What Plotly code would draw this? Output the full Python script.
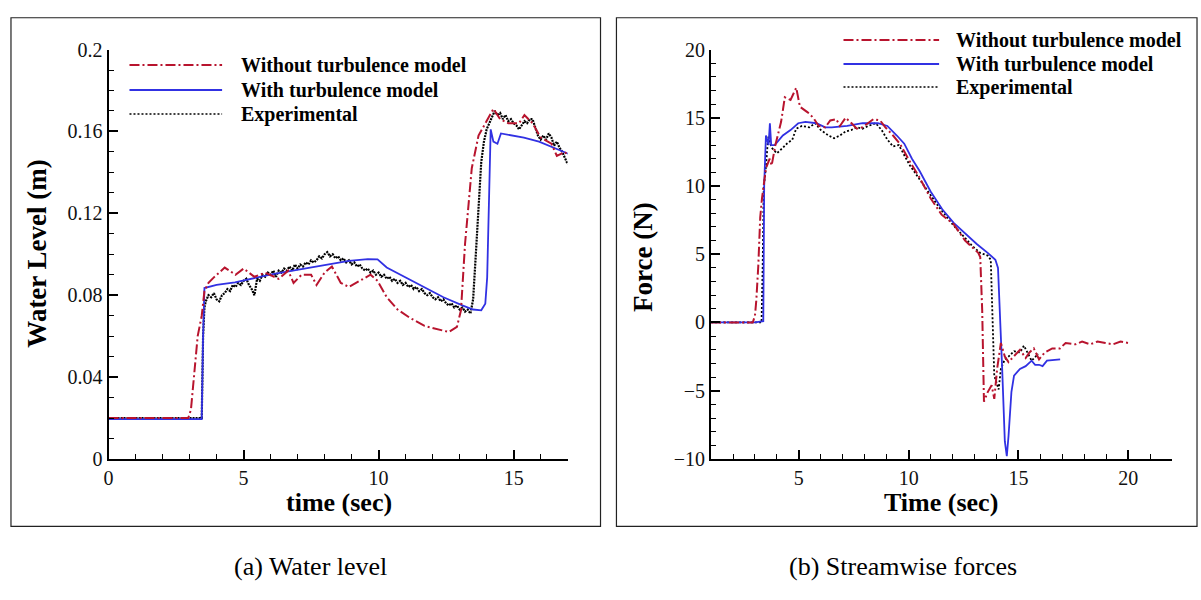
import plotly.graph_objects as go

# ---------------- (a) Water level ----------------
wl_t_without = [0.0, 1.0, 2.0, 2.95, 3.05, 3.15, 3.3, 3.45, 3.55, 3.7, 3.9, 4.3, 4.7, 5.0, 5.4, 5.8,
                6.3, 6.65, 6.85, 7.15, 7.5, 7.7, 8.0, 8.27, 8.6, 8.9, 9.25, 9.7, 9.96, 10.3, 10.7,
                11.15, 11.7, 12.3, 12.6, 12.9, 13.05, 13.2, 13.3, 13.45, 13.7, 14.0, 14.25, 14.5,
                14.8, 15.2, 15.4, 15.7, 16.0, 16.4, 16.6, 16.9, 17.0]
wl_without = [0.0200, 0.0200, 0.0200, 0.0200, 0.0240, 0.0400, 0.0600, 0.0700, 0.0820, 0.0860,
              0.0887, 0.0935, 0.0900, 0.0930, 0.0890, 0.0910, 0.0880, 0.0920, 0.0860, 0.0900,
              0.0900, 0.0850, 0.0910, 0.0940, 0.0860, 0.0840, 0.0865, 0.0900, 0.0870, 0.0790,
              0.0730, 0.0690, 0.0650, 0.0630, 0.0620, 0.0645, 0.0726, 0.1050, 0.1210, 0.1420,
              0.1580, 0.1650, 0.1710, 0.1660, 0.1640, 0.1640, 0.1680, 0.1640, 0.1570, 0.1540,
              0.1480, 0.1500, 0.1480]

wl_t_with = [0.0, 1.0, 2.0, 3.0, 3.45, 3.5, 3.55, 4.0, 4.68, 6.08, 7.49, 8.48, 8.9, 9.6, 9.96, 10.3,
             11.0, 11.7, 12.4, 13.1, 13.5, 13.8, 13.95, 14.02, 14.1, 14.15, 14.25, 14.4, 14.53,
             14.96, 15.38, 15.94, 16.5, 17.04]
wl_with = [0.0195, 0.0195, 0.0195, 0.0195, 0.0195, 0.0600, 0.0835, 0.0850, 0.0863, 0.0903, 0.0935,
           0.0960, 0.0968, 0.0976, 0.0975, 0.0935, 0.0887, 0.0839, 0.0790, 0.0750, 0.0730, 0.0726,
           0.0758, 0.0887, 0.1370, 0.1610, 0.1550, 0.1540, 0.1590, 0.1580, 0.1570, 0.1550, 0.1520,
           0.1490]

wl_t_exp = [0.0, 1.0, 2.0, 3.0, 3.45, 3.5, 3.55,
            3.6, 3.7, 3.8, 3.9, 4.0, 4.1, 4.2, 4.3, 4.4, 4.5, 4.6, 4.7, 4.8, 4.9,
            5.0, 5.1, 5.2, 5.3, 5.4, 5.5, 5.6, 5.7, 5.8, 5.9, 6.0, 6.1, 6.2, 6.3, 6.4,
            6.5, 6.6, 6.7, 6.8, 6.9, 7.0, 7.1, 7.2, 7.3, 7.4, 7.5, 7.6, 7.7, 7.8, 7.9,
            8.0, 8.1, 8.2, 8.3, 8.4, 8.5, 8.6, 8.7, 8.8, 8.9, 9.0, 9.1, 9.2, 9.3, 9.4,
            9.5, 9.6, 9.7, 9.8, 9.9, 10.0, 10.1, 10.2, 10.3, 10.4, 10.5, 10.6, 10.7, 10.8, 10.9,
            11.0, 11.1, 11.2, 11.3, 11.4, 11.5, 11.6, 11.7, 11.8, 11.9, 12.0, 12.1, 12.2, 12.3, 12.4,
            12.5, 12.6, 12.7, 12.8, 12.9, 13.0, 13.1, 13.2, 13.3, 13.4,
            13.5, 13.6, 13.7, 13.8, 13.9, 14.0, 14.1, 14.2, 14.3, 14.4, 14.5, 14.6, 14.7, 14.8, 14.9,
            15.0, 15.1, 15.2, 15.3, 15.4, 15.5, 15.6, 15.7, 15.8, 15.9, 16.0, 16.1, 16.2, 16.3, 16.4,
            16.5, 16.6, 16.7, 16.8, 16.9, 17.0]
wl_exp = [0.0200, 0.0201, 0.0199, 0.0200, 0.0200, 0.0600, 0.0740,
          0.0770, 0.0800, 0.0790, 0.0810, 0.0780, 0.0770, 0.0800, 0.0810, 0.0830, 0.0820, 0.0850,
          0.0840, 0.0860, 0.0850,
          0.0870, 0.0880, 0.0850, 0.0830, 0.0800, 0.0880, 0.0870, 0.0900, 0.0890, 0.0910, 0.0900,
          0.0920, 0.0890, 0.0920, 0.0910,
          0.0930, 0.0920, 0.0940, 0.0920, 0.0950, 0.0930, 0.0950, 0.0940, 0.0960, 0.0950, 0.0970,
          0.0960, 0.0970, 0.0990, 0.0980,
          0.1000, 0.1010, 0.0990, 0.1000, 0.0980, 0.0990, 0.0970, 0.0980, 0.0960, 0.0970, 0.0950,
          0.0960, 0.0940, 0.0950, 0.0930,
          0.0920, 0.0930, 0.0910, 0.0920, 0.0900, 0.0910, 0.0890, 0.0900, 0.0880, 0.0890, 0.0870,
          0.0880, 0.0860, 0.0870, 0.0850,
          0.0860, 0.0840, 0.0850, 0.0830, 0.0840, 0.0820, 0.0830, 0.0810, 0.0800, 0.0810, 0.0790,
          0.0780, 0.0790, 0.0770, 0.0780,
          0.0760, 0.0750, 0.0760, 0.0740, 0.0750, 0.0730, 0.0740, 0.0720, 0.0730, 0.0710,
          0.0780, 0.1000, 0.1250, 0.1450, 0.1550, 0.1610, 0.1640, 0.1670, 0.1700, 0.1680, 0.1690,
          0.1660, 0.1680, 0.1650, 0.1660,
          0.1640, 0.1630, 0.1610, 0.1630, 0.1650, 0.1640, 0.1660, 0.1660, 0.1620, 0.1580, 0.1560,
          0.1580, 0.1560, 0.1590, 0.1570,
          0.1530, 0.1550, 0.1520, 0.1500, 0.1470, 0.1440]

# ---------------- (b) Streamwise forces ----------------
f_t_without = [1.0, 2.0, 2.9, 3.0, 3.06, 3.15, 3.24, 3.32, 3.5, 3.67, 3.76, 3.93, 4.19, 4.36, 4.62,
               4.88, 5.05, 5.4, 5.66, 5.9, 6.2, 6.43, 6.7, 6.87, 7.13, 7.4, 7.64, 7.9, 8.16, 8.4,
               8.7, 8.94, 9.29, 9.6, 9.98, 10.5, 11.0, 11.5, 12.05, 12.57, 13.17, 13.26, 13.35,
               13.43, 13.6, 13.78, 13.9, 14.03, 14.2, 14.38, 14.55, 14.8, 15.07, 15.33, 15.5,
               15.7, 15.94, 16.2, 16.54, 16.89, 17.15, 17.6, 17.9, 18.27, 18.6, 18.96, 19.3,
               19.65, 20.0]
f_without = [0.0, 0.0, 0.0, 0.5, 1.6, 4.1, 7.7, 9.1, 11.3, 12.0, 11.5, 13.0, 14.7, 16.5, 16.3,
             17.2, 15.8, 15.4, 15.0, 14.4, 14.3, 14.8, 14.9, 14.4, 15.0, 14.6, 14.2, 14.3, 14.6,
             14.9, 14.8, 14.3, 13.7, 13.1, 12.0, 10.6, 9.1, 7.9, 7.2, 6.0, 5.1, 4.8, 0.9,
             -5.8, -5.1, -4.6, -5.6, -3.4, -1.5, -2.5, -2.9, -2.5, -2.0, -2.6, -2.2,
             -1.9, -2.7, -2.2, -1.9, -1.9, -1.5, -1.6, -1.4, -1.6, -1.4, -1.5, -1.6,
             -1.4, -1.5]

f_t_with = [1.0, 2.0, 3.0, 3.38, 3.42, 3.5, 3.62, 3.68, 3.74, 3.9, 4.27, 4.62, 4.97, 5.3, 5.8,
            6.2, 6.5, 7.2, 7.9, 8.6, 9.03, 9.46, 9.8, 10.15, 10.5, 11.0, 11.53, 12.05, 12.57,
            13.1, 13.6, 13.95, 14.07, 14.16, 14.26, 14.38, 14.47, 14.55, 14.68, 14.8, 15.07,
            15.33, 15.6, 15.76, 15.94, 16.1, 16.3, 16.9]
f_with = [0.0, 0.0, 0.0, 0.1, 10.0, 13.7, 13.0, 14.6, 13.0, 13.0, 13.7, 14.1, 14.6, 14.7, 14.6,
          14.3, 14.3, 14.4, 14.6, 14.6, 14.4, 13.7, 13.1, 12.0, 11.1, 9.6, 8.3, 7.3, 6.5,
          5.75, 5.1, 4.6, 4.0, 0.9, -3.4, -8.7, -9.8, -8.3, -5.1, -3.9, -3.4,
          -3.2, -2.8, -3.1, -3.1, -3.2, -2.8, -2.7]

f_t_exp = [1.0, 2.0, 3.0, 3.3, 3.35, 3.4, 3.5, 3.6, 3.76, 4.0, 4.27, 4.45, 4.7, 4.88, 5.14, 5.48,
           5.74, 6.0, 6.35, 6.6, 6.87, 7.13, 7.38, 7.64, 7.9, 8.16, 8.5, 8.77, 9.03, 9.29, 9.55,
           9.8, 10.06, 10.32, 10.67, 11.0, 11.36, 11.7, 12.05, 12.48, 12.9, 13.26, 13.6, 13.74,
           13.8, 13.9, 14.1, 14.2, 14.38, 14.55, 14.8, 15.07, 15.25, 15.4, 15.6, 15.9]
f_exp = [0.0, 0.0, 0.0, 0.0, 4.0, 9.9, 11.4, 13.6, 12.8, 12.4, 12.8, 13.1, 13.4, 14.2, 14.4, 14.3,
         14.6, 14.1, 13.7, 13.5, 13.7, 14.0, 14.1, 14.3, 14.2, 14.4, 14.6, 14.1, 13.4, 12.9, 13.0,
         12.3, 11.5, 10.9, 10.1, 9.25, 8.5, 7.8, 7.1, 6.35, 5.6, 5.1, 4.9, 4.6,
         0.9, -3.9, -4.9, -3.4, -2.7, -2.5, -2.1, -2.2, -1.7, -2.2, -2.8, -2.3]

legend_names = ["Without turbulence model", "With turbulence model", "Experimental"]
panel_captions = ["(a) Water level", "(b) Streamwise forces"]

RED = "#b8142e"
BLUE = "#3131e3"
BLACK = "#000000"
DASH_RED = "10px,3px,2px,3px"
DASH_BLK = "2px,2px"
SERIF = "Liberation Serif"

W, H = 1201, 600


def px(x):
    return x / W


def py(y):
    return 1 - y / H


fig = go.Figure()

# panel (a)
fig.add_trace(go.Scatter(x=wl_t_exp, y=wl_exp, mode="lines", name=legend_names[2],
                         line=dict(color=BLACK, width=2.2, dash="2px,1px"), xaxis="x", yaxis="y"))
fig.add_trace(go.Scatter(x=wl_t_with, y=wl_with, mode="lines", name=legend_names[1],
                         line=dict(color=BLUE, width=1.8), xaxis="x", yaxis="y"))
fig.add_trace(go.Scatter(x=wl_t_without, y=wl_without, mode="lines", name=legend_names[0],
                         line=dict(color=RED, width=2, dash=DASH_RED), xaxis="x", yaxis="y"))

# panel (b)
fig.add_trace(go.Scatter(x=f_t_exp, y=f_exp, mode="lines", name=legend_names[2],
                         line=dict(color=BLACK, width=1.8, dash=DASH_BLK), xaxis="x2", yaxis="y2"))
fig.add_trace(go.Scatter(x=f_t_with, y=f_with, mode="lines", name=legend_names[1],
                         line=dict(color=BLUE, width=1.8), xaxis="x2", yaxis="y2"))
fig.add_trace(go.Scatter(x=f_t_without, y=f_without, mode="lines", name=legend_names[0],
                         line=dict(color=RED, width=2, dash=DASH_RED), xaxis="x2", yaxis="y2"))

axis_common = dict(
    showline=True, linecolor="black", linewidth=2, mirror=False,
    showgrid=False, zeroline=False,
    ticks="inside", ticklen=9, tickwidth=1.5, tickcolor="black",
    tickfont=dict(family=SERIF, size=20, color="#111"),
)

fig.update_layout(
    width=W, height=H,
    margin=dict(l=0, r=0, t=0, b=0),
    paper_bgcolor="white", plot_bgcolor="white",
    showlegend=False,
    font=dict(family=SERIF),
    xaxis=dict(domain=[px(104), px(565)], range=[0, 17], anchor="y",
               tick0=0, dtick=5,
               minor=dict(ticks="inside", ticklen=5, dtick=1, tickcolor="black", tickwidth=1),
               **axis_common),
    yaxis=dict(domain=[py(465), py(40)], range=[0, 0.2], anchor="x",
               tick0=0, dtick=0.04,
               minor=dict(ticks="inside", ticklen=5, dtick=0.01, tickcolor="black", tickwidth=1),
               **axis_common),
    xaxis2=dict(domain=[px(709), px(1172)], range=[1, 22], anchor="y2",
                tick0=0, dtick=5,
                minor=dict(ticks="inside", ticklen=5, dtick=1, tickcolor="black", tickwidth=1),
                **axis_common),
    yaxis2=dict(domain=[py(465), py(40)], range=[-10, 20], anchor="x2",
                tick0=0, dtick=5,
                minor=dict(ticks="inside", ticklen=5, dtick=1, tickcolor="black", tickwidth=1),
                **axis_common),
)

shapes = []
annotations = []

# panel frames
for x0, x1 in [(6, 598), (614, 1197)]:
    shapes.append(dict(type="rect", xref="paper", yref="paper",
                       x0=px(x0), x1=px(x1), y0=py(535), y1=py(7),
                       line=dict(color="#222", width=1.2)))

# hand-placed legends
legend_styles = [dict(color=RED, width=2, dash=DASH_RED),
                 dict(color=BLUE, width=2),
                 dict(color=BLACK, width=1.5, dash=DASH_BLK)]
for (lx0, lx1, tx, ys) in [(125, 218, 235, [56, 82, 107]), (842, 938, 953, [30, 55, 79])]:
    for name, sty, yy in zip(legend_names, legend_styles, ys):
        shapes.append(dict(type="line", xref="paper", yref="paper",
                           x0=px(lx0), x1=px(lx1), y0=py(yy), y1=py(yy), line=sty))
        annotations.append(dict(xref="paper", yref="paper", x=px(tx), y=py(yy),
                                xanchor="left", yanchor="middle", showarrow=False,
                                text=f"<b>{name}</b>",
                                font=dict(family=SERIF, size=20, color="black")))

# axis titles
xtitle_font = dict(family=SERIF, size=26, color="black")
ytitle_font = dict(family=SERIF, size=27, color="black")
annotations += [
    dict(xref="paper", yref="paper", x=px(335), y=py(510), text="<b>time (sec)</b>",
         showarrow=False, xanchor="center", yanchor="middle", font=xtitle_font),
    dict(xref="paper", yref="paper", x=px(32), y=py(252), text="<b>Water Level (m)</b>",
         showarrow=False, xanchor="center", yanchor="middle", textangle=-90, font=ytitle_font),
    dict(xref="paper", yref="paper", x=px(940), y=py(510), text="<b>Time (sec)</b>",
         showarrow=False, xanchor="center", yanchor="middle", font=xtitle_font),
    dict(xref="paper", yref="paper", x=px(640), y=py(255), text="<b>Force (N)</b>",
         showarrow=False, xanchor="center", yanchor="middle", textangle=-90, font=ytitle_font),
]

# captions
for cx, cap in zip([307, 902], panel_captions):
    annotations.append(dict(xref="paper", yref="paper", x=px(cx), y=py(577), text=cap,
                            showarrow=False, xanchor="center", yanchor="middle",
                            font=dict(family=SERIF, size=26, color="black")))

fig.update_layout(shapes=shapes, annotations=annotations)

fig.write_html("out.html")
